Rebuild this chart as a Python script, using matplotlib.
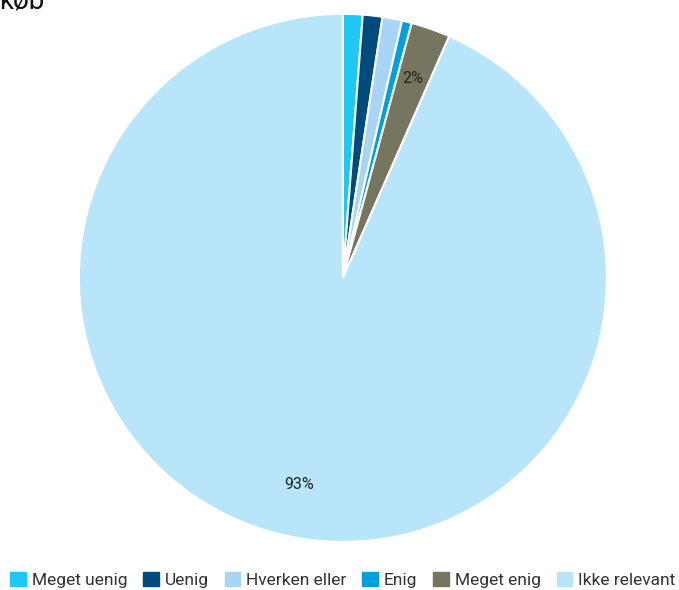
import matplotlib.pyplot as plt
from matplotlib.patches import Patch

plt.rcParams['font.family'] = ['Roboto', 'DejaVu Sans']

categories = ['Meget uenig', 'Uenig', 'Hverken eller', 'Enig', 'Meget enig', 'Ikke relevant']
values = [1.2, 1.2, 1.2, 0.6, 2.4, 93.4]
shown_labels = ['', '', '', '', '2%', '93%']
colors = ['#1ec8f5', '#004b7d', '#a8d4f5', '#00a0e0', '#757560', '#b9e5fa']

fig = plt.figure(figsize=(6.79, 5.90), dpi=100)
ax = fig.add_axes([0.505 - 0.389, 0.529 - 0.4475, 0.778, 0.895])

wedges, texts = ax.pie(values, colors=colors, startangle=90, counterclock=False,
                       labels=shown_labels, labeldistance=0.8,
                       wedgeprops=dict(edgecolor='white', linewidth=1.5),
                       textprops=dict(fontsize=11.5, color='#222222', ha='center', va='center'))
ax.set_xlim(-1.0, 1.0)
ax.set_ylim(-1.0, 1.0)
ax.set_aspect('equal')

# title is cut off at the top of the image
fig.text(-0.002, 1 - 8 / 590, 'køb', fontsize=20, ha='left', va='baseline', color='#111111')

handles = [Patch(facecolor=c, edgecolor=c) for c in colors]
fig.legend(handles, categories, loc='center', bbox_to_anchor=(0.505, 1 - 580 / 590),
           ncol=6, frameon=False, fontsize=12.5, handlelength=0.9, handleheight=0.9,
           handletextpad=0.35, columnspacing=0.9, labelcolor='#333333')

fig.savefig('out.png', dpi=100)
